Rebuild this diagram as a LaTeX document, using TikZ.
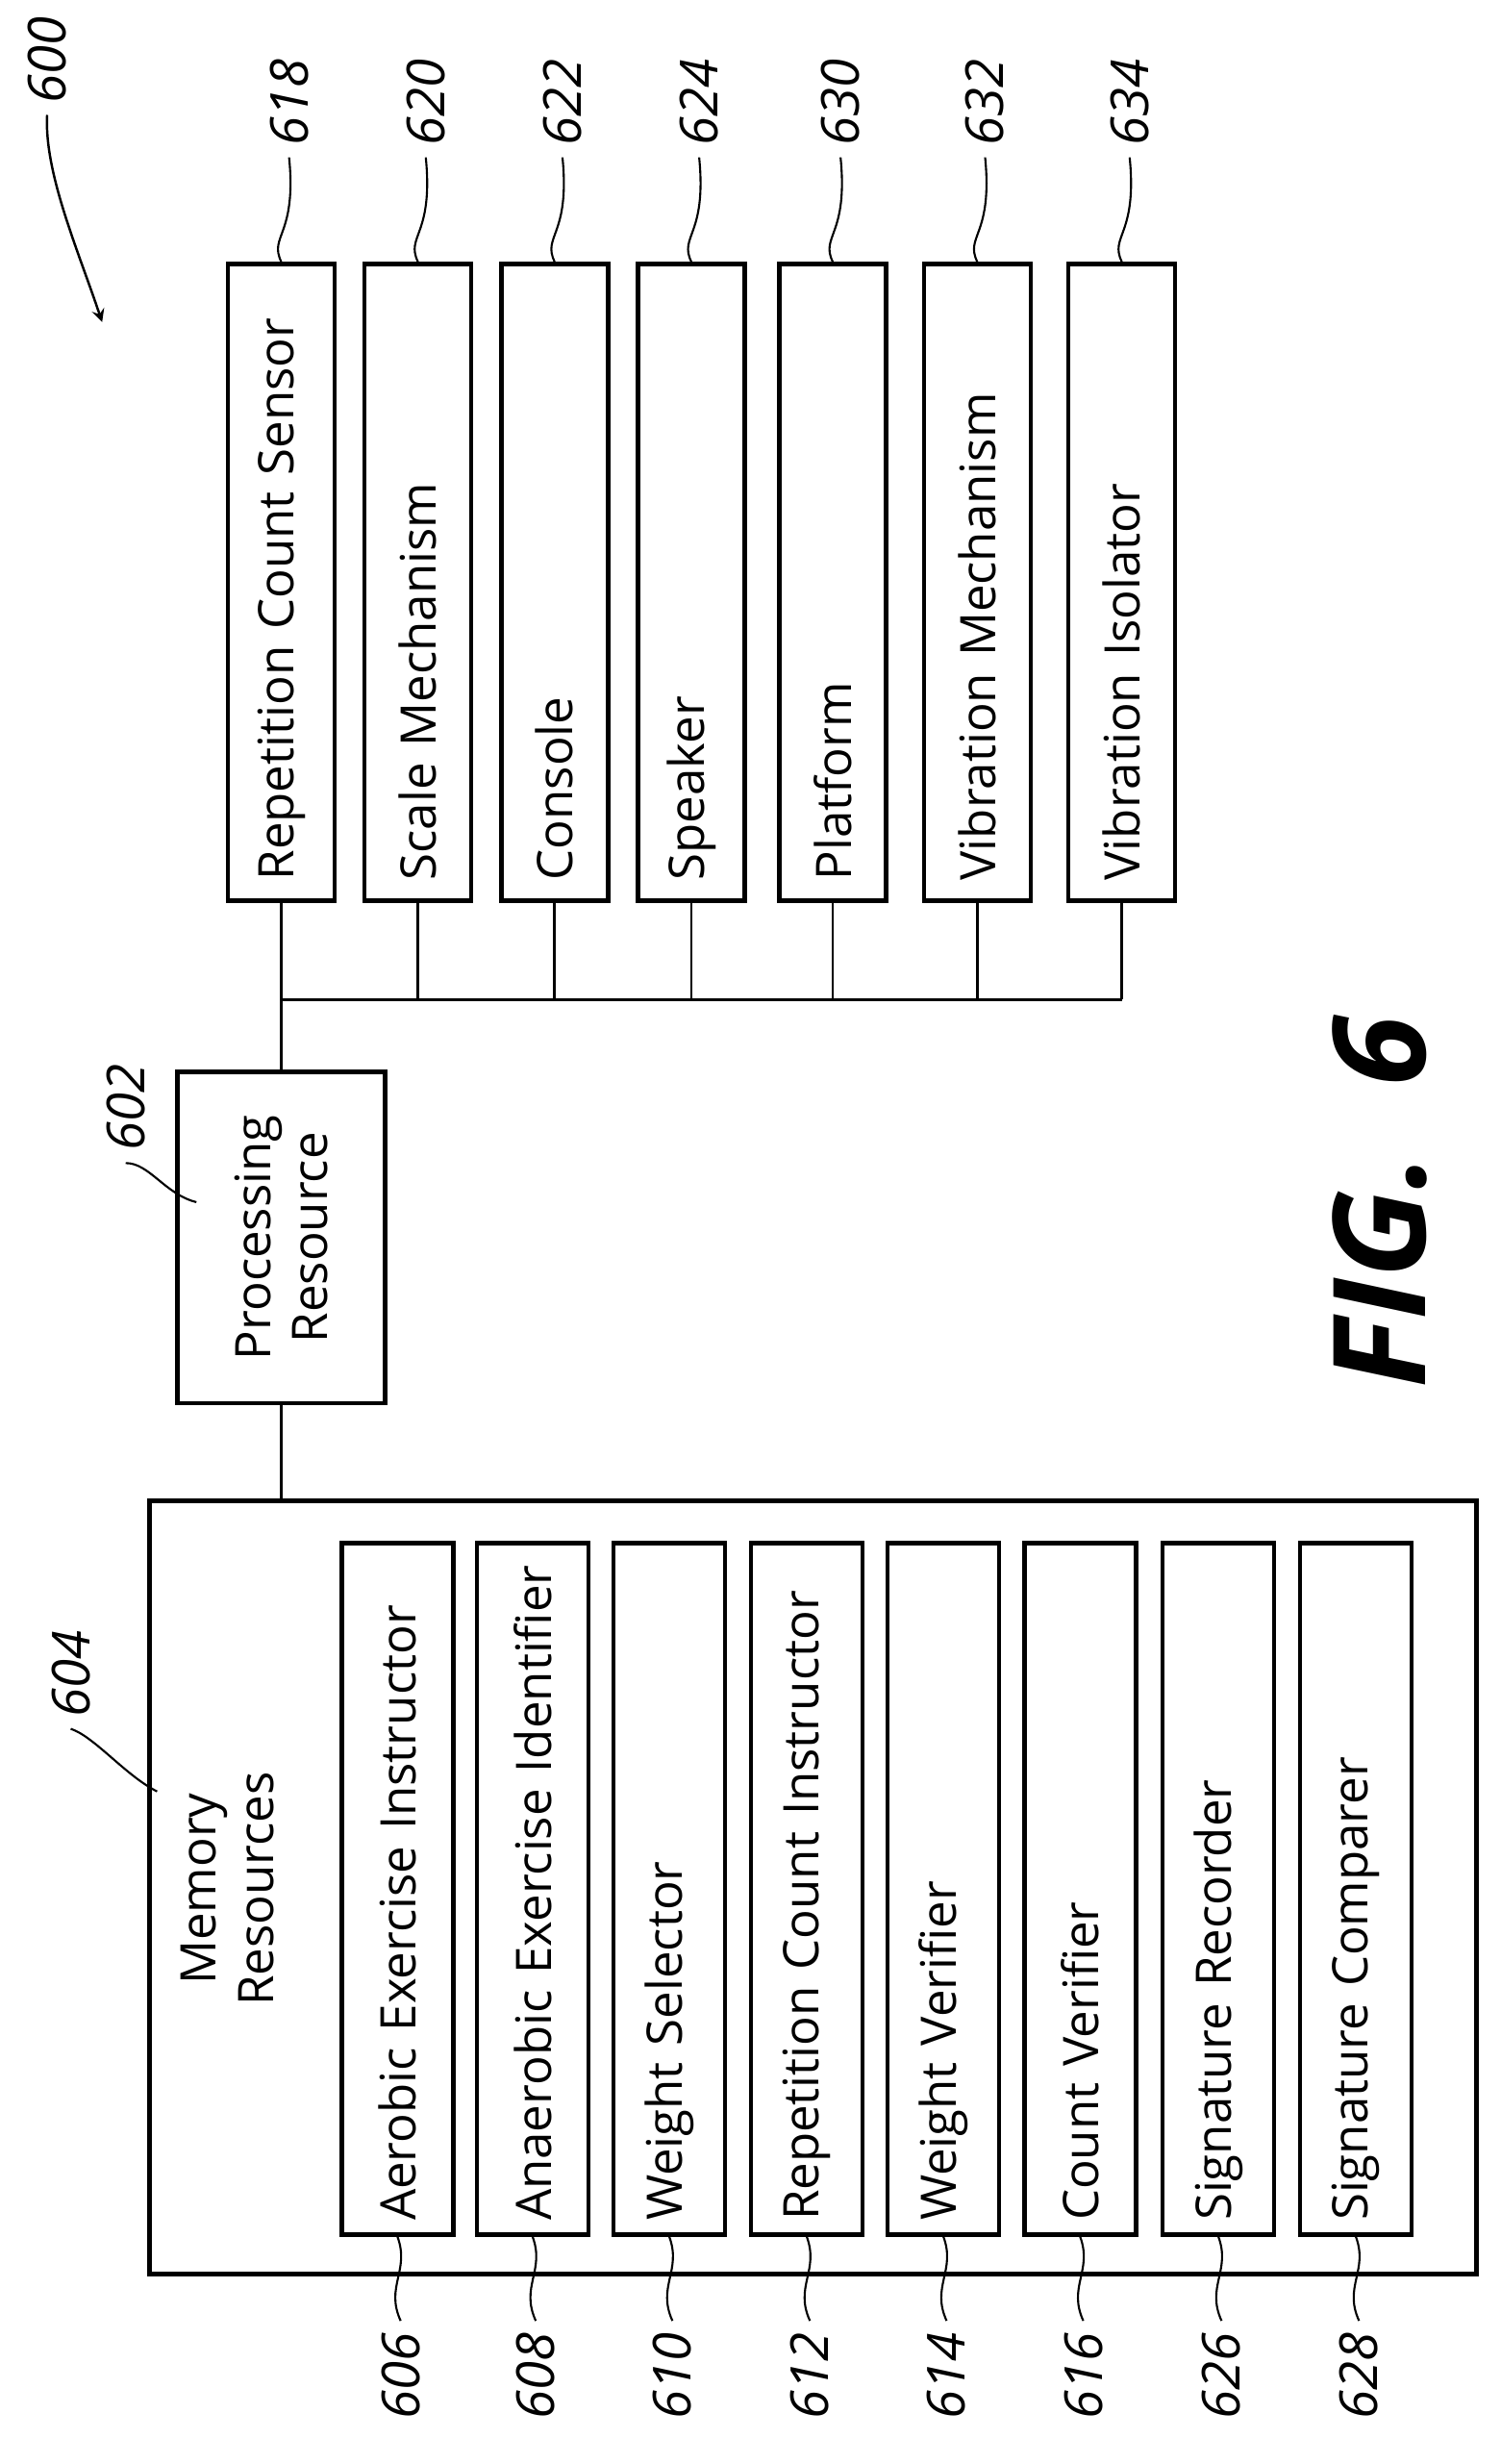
\documentclass[tikz,border=0pt]{standalone}
\usepackage{fontspec}
\setmainfont{Open Sans}
\tikzstyle{unit} = [rectangle, draw, line width=1.3pt, rotate=90, inner sep=0pt,
    minimum width=6.62cm, minimum height=1.11cm, text width=6.2cm, align=left,
    font=\fontsize{14.5}{17}\selectfont]
\tikzstyle{module} = [unit, minimum width=7.19cm, minimum height=1.16cm, text width=6.9cm]
\tikzstyle{ref} = [rotate=90, font=\fontsize{15.5}{18}\selectfont\itshape]
\tikzstyle{wire} = [draw, line width=0.8pt]
\tikzstyle{leader} = [draw, line width=0.6pt]

\begin{document}
\begin{tikzpicture}[x=0.016335cm, y=-0.016335cm]
    \useasboundingbox (0,0) rectangle (955,1568);
    % Output devices
    \foreach \x/\num/\txt in {179/618/Repetition Count Sensor, 266/620/Scale Mechanism,
        353/622/Console, 440/624/Speaker, 530/630/Platform,
        622/632/Vibration Mechanism, 714/634/Vibration Isolator} {
        \node [unit] (dev\num) at (\x,370.5) {\txt};
        \node [ref] (lbl\num) at (\x+5,65) {\num};
        \path [leader] (dev\num.east) .. controls (\x-8,150) and (\x+10,150) .. (lbl\num.west);
        \coordinate (tap\num) at (\x,636);
        \path [wire] (dev\num.west) -- (tap\num);
    }
    \path [wire] (tap618) -- (tap634);
    % Processing resource
    \node [rectangle, draw, line width=1.3pt, minimum width=2.156cm, minimum height=3.447cm] (proc) at (179,787.5) {};
    \node [rotate=90, align=center, font=\fontsize{14.5}{17}\selectfont] (proctxt) at (proc.center) {Processing\\Resource};
    \node [ref] (lbl602) at (80,705) {602};
    \path [leader] (lbl602.west) .. controls (95,740) and (105,760) .. (125,765);
    \path [wire] (tap618) -- (proc.north);
    % Memory resources
    \node [rectangle, draw, line width=1.3pt, minimum width=13.80cm, minimum height=8.04cm] (mem) at (517.5,1201) {};
    \path [wire] (proc.south) -- (proc.south |- mem.north);
    \node [rotate=90, align=center, font=\fontsize{14.5}{17}\selectfont] (memtxt) at (145,1202) {Memory\\Resources};
    \node [ref] (lbl604) at (45,1065) {604};
    \path [leader] (lbl604.west) .. controls (60,1105) and (80,1130) .. (100,1140);
    \foreach \x/\num/\txt in {253/606/Aerobic Exercise Instructor, 339/608/Anaerobic Exercise Identifier,
        426/610/Weight Selector, 513.5/612/Repetition Count Instructor, 600.5/614/Weight Verifier,
        687.5/616/Count Verifier, 775.5/626/Signature Recorder, 863/628/Signature Comparer} {
        \node [module] (mod\num) at (\x,1202) {\txt};
        \node [ref] (lbl\num) at (\x+2,1512) {\num};
        \path [leader] (mod\num.west) .. controls (\x+8,1445) and (\x-8,1455) .. (lbl\num.east);
    }
    % Figure reference
    \node [ref] (lbl600) at (30,38) {600};
    \draw [line width=0.7pt, -stealth] (lbl600.west) .. controls (28,110) and (50,160) .. (65,205);
    \node [rotate=90, font=\fontsize{38}{44}\selectfont\bfseries\itshape] (fig) at (878,765) {FIG.~~6};
\end{tikzpicture}
\end{document}
